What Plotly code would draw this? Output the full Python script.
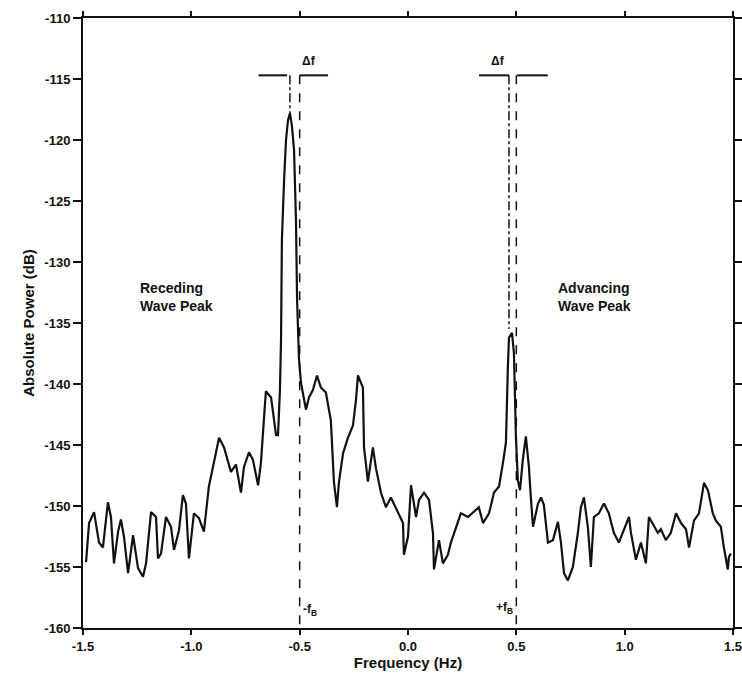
import plotly.graph_objects as go

freq = [-1.486, -1.472, -1.449, -1.426, -1.408, -1.385, -1.371, -1.357, -1.338, -1.325,
        -1.311, -1.292, -1.269, -1.246, -1.223, -1.209, -1.186, -1.163, -1.154, -1.140,
        -1.117, -1.094, -1.080, -1.057, -1.039, -1.025, -1.011, -0.988, -0.965, -0.942,
        -0.919, -0.895, -0.872, -0.849, -0.817, -0.794, -0.771, -0.757, -0.734, -0.716,
        -0.692, -0.679, -0.669, -0.656, -0.632, -0.609, -0.600, -0.591, -0.586, -0.582,
        -0.572, -0.563, -0.554, -0.545, -0.536, -0.526, -0.517, -0.512, -0.503, -0.494,
        -0.471, -0.457, -0.439, -0.420, -0.402, -0.379, -0.356, -0.342, -0.328, -0.319,
        -0.300, -0.277, -0.254, -0.240, -0.231, -0.208, -0.203, -0.185, -0.162, -0.148,
        -0.125, -0.102, -0.079, -0.046, -0.023, -0.019, 0.000, 0.014, 0.037, 0.051,
        0.074, 0.097, 0.115, 0.120, 0.143, 0.161, 0.184, 0.198, 0.221, 0.244,
        0.277, 0.300, 0.327, 0.346, 0.374, 0.397, 0.420, 0.438, 0.452, 0.461,
        0.466, 0.480, 0.489, 0.498, 0.507, 0.517, 0.530, 0.544, 0.558, 0.567,
        0.577, 0.600, 0.614, 0.627, 0.646, 0.669, 0.692, 0.706, 0.720, 0.738,
        0.761, 0.784, 0.798, 0.812, 0.830, 0.844, 0.858, 0.881, 0.904, 0.927,
        0.950, 0.973, 0.997, 1.020, 1.029, 1.052, 1.075, 1.098, 1.112, 1.135,
        1.153, 1.167, 1.190, 1.213, 1.237, 1.260, 1.283, 1.297, 1.320, 1.343,
        1.366, 1.384, 1.407, 1.421, 1.444, 1.458, 1.476, 1.481, 1.490]

power_db = [-154.6, -151.4, -150.5, -153.0, -153.4, -149.7, -150.9, -154.7, -152.1, -151.1,
            -152.5, -155.5, -152.4, -155.1, -155.8, -154.7, -150.5, -150.9, -154.3, -153.9,
            -150.9, -151.7, -153.6, -152.0, -149.1, -149.8, -154.3, -150.6, -151.0, -152.1,
            -148.4, -146.5, -144.4, -145.2, -147.2, -146.6, -148.9, -146.8, -145.6, -146.2,
            -148.3, -146.5, -143.6, -140.6, -141.1, -144.2, -144.2, -140.5, -136.4, -128.2,
            -123.3, -120.0, -118.4, -117.8, -118.8, -120.8, -126.6, -133.1, -138.0, -139.9,
            -142.1, -141.1, -140.5, -139.3, -140.3, -140.7, -143.0, -148.0, -150.1, -148.1,
            -145.7, -144.4, -143.4, -141.3, -139.3, -140.3, -145.2, -148.0, -145.2, -146.9,
            -148.9, -150.1, -149.3, -150.6, -151.4, -154.0, -152.5, -148.3, -150.9, -149.5,
            -148.9, -149.5, -152.2, -155.2, -152.8, -154.7, -154.0, -153.0, -151.7, -150.6,
            -150.9, -150.5, -150.1, -151.4, -150.6, -148.9, -148.4, -146.5, -144.8, -138.6,
            -136.2, -135.8, -137.5, -144.3, -147.9, -148.7, -146.2, -144.3, -146.8, -149.3,
            -151.7, -149.8, -149.3, -149.9, -153.0, -152.8, -151.3, -153.0, -155.5, -156.1,
            -155.0, -152.2, -150.1, -149.3, -151.7, -155.0, -150.9, -150.6, -149.8, -150.6,
            -152.2, -153.0, -151.9, -150.9, -152.2, -154.4, -153.0, -154.7, -150.9, -151.7,
            -152.2, -151.9, -152.8, -152.2, -150.6, -151.4, -151.9, -153.4, -151.2, -150.6,
            -148.1, -148.7, -150.6, -151.2, -151.7, -153.4, -155.2, -154.2, -153.9]

x_ticks = [-1.5, -1.0, -0.5, 0.0, 0.5, 1.0, 1.5]
x_tick_labels = ["-1.5", "-1.0", "-0.5", "0.0", "0.5", "1.0", "1.5"]
y_ticks = [-110, -115, -120, -125, -130, -135, -140, -145, -150, -155, -160]
y_tick_labels = ["-110", "-115", "-120", "-125", "-130", "-135", "-140", "-145", "-150", "-155", "-160"]

# Annotation geometry (data units)
bragg_neg, bragg_pos = -0.5, 0.5
peak_neg_f, peak_neg_db = -0.545, -117.8
peak_pos_f, peak_pos_db = 0.466, -135.5
bar_db = -114.7
left_bar_neg = [-0.690, -0.558]
right_bar_neg = [-0.500, -0.369]
left_bar_pos = [0.328, 0.466]
right_bar_pos = [0.503, 0.645]

FONT = "Liberation Sans, Arial, sans-serif"
INK = "#111111"

fig = go.Figure()
fig.add_trace(go.Scatter(x=freq, y=power_db, mode="lines",
                         line=dict(color=INK, width=2.2), showlegend=False))

shapes = []
for f in (bragg_neg, bragg_pos):
    shapes.append(dict(type="line", x0=f, x1=f, y0=bar_db, y1=-160,
                       line=dict(color=INK, width=1.5, dash="dash")))
shapes.append(dict(type="line", x0=peak_neg_f, x1=peak_neg_f, y0=bar_db, y1=peak_neg_db,
                   line=dict(color=INK, width=1.5, dash="dashdot")))
shapes.append(dict(type="line", x0=peak_pos_f, x1=peak_pos_f, y0=bar_db, y1=peak_pos_db,
                   line=dict(color=INK, width=1.5, dash="dashdot")))
for seg in (left_bar_neg, right_bar_neg, left_bar_pos, right_bar_pos):
    shapes.append(dict(type="line", x0=seg[0], x1=seg[1], y0=bar_db, y1=bar_db,
                       line=dict(color=INK, width=2)))

annotations = [
    dict(x=-0.457, y=-114.3, text="<b>Δf</b>", showarrow=False, xanchor="center", yanchor="bottom",
         font=dict(family=FONT, size=12, color=INK)),
    dict(x=0.415, y=-114.3, text="<b>Δf</b>", showarrow=False, xanchor="center", yanchor="bottom",
         font=dict(family=FONT, size=12, color=INK)),
    dict(x=-0.495, y=-158.5, text="<b>-f<sub>B</sub></b>", showarrow=False, xanchor="left",
         font=dict(family=FONT, size=12, color=INK)),
    dict(x=0.495, y=-158.4, text="<b>+f<sub>B</sub></b>", showarrow=False, xanchor="right",
         font=dict(family=FONT, size=12, color=INK)),
    dict(x=-1.248, y=-132.9, text="<b>Receding<br>Wave Peak</b>", showarrow=False,
         xanchor="left", yanchor="middle", align="left",
         font=dict(family=FONT, size=14, color=INK)),
    dict(x=0.682, y=-132.9, text="<b>Advancing<br>Wave Peak</b>", showarrow=False,
         xanchor="left", yanchor="middle", align="left",
         font=dict(family=FONT, size=14, color=INK)),
]

fig.update_layout(
    width=742, height=681,
    margin=dict(l=83, r=9, t=18, b=53),
    paper_bgcolor="white", plot_bgcolor="white",
    shapes=shapes, annotations=annotations,
    font=dict(family=FONT, color=INK),
    xaxis=dict(range=[-1.5, 1.5], tickvals=x_ticks, ticktext=x_tick_labels, automargin=False,
               ticklabeloverflow="allow",
               showgrid=False, zeroline=False, showline=True, linecolor=INK, linewidth=2,
               mirror="ticks", ticks="outside", ticklen=5, tickwidth=1.5, tickcolor=INK,
               tickfont=dict(family=FONT, size=13, color=INK, weight="bold"),
               title=dict(text="<b>Frequency (Hz)</b>", standoff=4,
                          font=dict(family=FONT, size=15, color=INK))),
    yaxis=dict(range=[-160, -110], tickvals=y_ticks, ticktext=y_tick_labels, automargin=False,
               ticklabeloverflow="allow",
               showgrid=False, zeroline=False, showline=True, linecolor=INK, linewidth=2,
               mirror="ticks", ticks="outside", ticklen=8, tickwidth=1.5, tickcolor=INK,
               tickfont=dict(family=FONT, size=13, color=INK, weight="bold"),
               title=dict(text="<b>Absolute Power (dB)</b>", standoff=6,
                          font=dict(family=FONT, size=15, color=INK))),
)

# remove the page's default body margin so the figure sits at the window origin
fig.write_html("out.html",
               config={"displayModeBar": False},
               post_script="document.body.style.margin='0';document.body.style.overflow='hidden';")
